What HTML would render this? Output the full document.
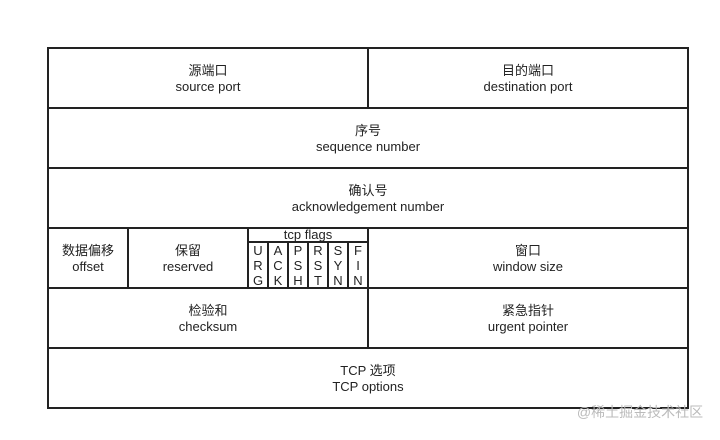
<!DOCTYPE html>
<html><head><meta charset="utf-8"><style>
body{margin:0;width:720px;height:440px;background:#fff;position:relative;overflow:hidden;font-family:"Liberation Sans","Noto Sans CJK SC",sans-serif;color:#222}
.t{position:absolute;text-align:center;font-size:13px;line-height:16px}
</style></head><body>
<svg width="720" height="440" style="position:absolute;left:0;top:0">
<g stroke="#222" stroke-width="2" fill="none">
<rect x="48" y="48" width="640" height="360"/>
<line x1="48" y1="108" x2="688" y2="108"/>
<line x1="48" y1="168" x2="688" y2="168"/>
<line x1="48" y1="228" x2="688" y2="228"/>
<line x1="48" y1="288" x2="688" y2="288"/>
<line x1="48" y1="348" x2="688" y2="348"/>
<line x1="368" y1="48" x2="368" y2="108"/>
<line x1="368" y1="228" x2="368" y2="348"/>
<line x1="128" y1="228" x2="128" y2="288"/>
<line x1="248" y1="228" x2="248" y2="288"/>
<line x1="248" y1="242" x2="368" y2="242"/>
<line x1="268" y1="242" x2="268" y2="288"/>
<line x1="288" y1="242" x2="288" y2="288"/>
<line x1="308" y1="242" x2="308" y2="288"/>
<line x1="328" y1="242" x2="328" y2="288"/>
<line x1="348" y1="242" x2="348" y2="288"/>
</g>
</svg>
<div class="t" style="left:48px;top:63px;width:320px">源端口<br>source port</div>
<div class="t" style="left:368px;top:63px;width:320px">目的端口<br>destination port</div>
<div class="t" style="left:48px;top:123px;width:640px">序号<br>sequence number</div>
<div class="t" style="left:48px;top:183px;width:640px">确认号<br>acknowledgement number</div>
<div class="t" style="left:48px;top:243px;width:80px">数据偏移<br>offset</div>
<div class="t" style="left:128px;top:243px;width:120px">保留<br>reserved</div>
<div class="t" style="left:248px;top:227px;width:120px;line-height:16px">tcp flags</div>
<div class="t" style="left:248px;top:243px;width:20px;line-height:15px">U<br>R<br>G</div>
<div class="t" style="left:268px;top:243px;width:20px;line-height:15px">A<br>C<br>K</div>
<div class="t" style="left:288px;top:243px;width:20px;line-height:15px">P<br>S<br>H</div>
<div class="t" style="left:308px;top:243px;width:20px;line-height:15px">R<br>S<br>T</div>
<div class="t" style="left:328px;top:243px;width:20px;line-height:15px">S<br>Y<br>N</div>
<div class="t" style="left:348px;top:243px;width:20px;line-height:15px">F<br>I<br>N</div>
<div class="t" style="left:368px;top:243px;width:320px">窗口<br>window size</div>
<div class="t" style="left:48px;top:303px;width:320px">检验和<br>checksum</div>
<div class="t" style="left:368px;top:303px;width:320px">紧急指针<br>urgent pointer</div>
<div class="t" style="left:48px;top:363px;width:640px">TCP 选项<br>TCP options</div>
<div class="t" style="left:570px;top:404px;width:140px;color:#bbb;font-size:14px">@稀土掘金技术社区</div>
</body></html>
